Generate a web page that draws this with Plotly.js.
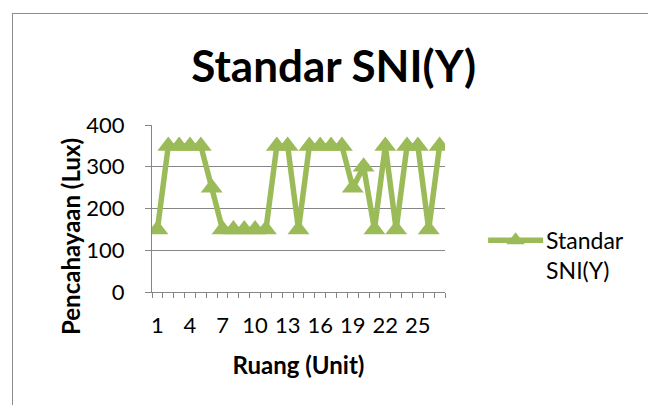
<!DOCTYPE html>
<html>
<head>
<meta charset="utf-8">
<script src="https://cdn.plot.ly/plotly-3.0.1.min.js"></script>
<style>
html,body{margin:0;padding:0;background:#fff;}
#wrap{position:relative;width:648px;height:405px;}
#chart{width:648px;height:405px;}
#frame{position:absolute;left:12px;top:13px;right:-2px;bottom:-2px;border:1px solid #8c8c8c;pointer-events:none;}
</style>
</head>
<body>
<div id="wrap">
<div id="chart"></div>
<div id="frame"></div>
</div>
<script>
var ruang = [1,2,3,4,5,6,7,8,9,10,11,12,13,14,15,16,17,18,19,20,21,22,23,24,25,26,27];
var standarSNI = [150,350,350,350,350,250,150,150,150,150,150,350,350,150,350,350,350,350,250,300,150,350,150,350,350,150,350];
var xTickVals = [1,4,7,10,13,16,19,22,25];
var xTickText = ['1','4','7','10','13','16','19','22','25'];
var yTickVals = [0,100,200,300,400];
var seriesName = 'Standar<br>SNI(Y)';
var chartTitle = 'Standar SNI(Y)';
var xTitle = 'Ruang (Unit)';
var yTitle = 'Pencahayaan (Lux)';

var fontFam = 'Lato, "Open Sans", sans-serif';

var trace = {
  x: ruang,
  y: standarSNI,
  type: 'scatter',
  mode: 'lines+markers',
  name: seriesName,
  line: {color: '#9BBB59', width: 5.5},
  marker: {symbol: 'triangle-up', size: 19, color: '#9BBB59'},
  showlegend: true
};

var layout = {
  width: 648,
  height: 405,
  margin: {l: 152, r: 203, t: 125, b: 113},
  paper_bgcolor: '#ffffff',
  plot_bgcolor: '#ffffff',
  font: {family: fontFam, color: '#000000', size: 22},
  title: {
    text: '<b>' + chartTitle + '</b>',
    font: {family: fontFam, size: 44, color: '#000000'},
    x: 0.62, xanchor: 'center', xref: 'paper',
    y: 0.835, yanchor: 'middle', yref: 'container'
  },
  xaxis: {
    range: [0.5, 27.5],
    tickmode: 'array',
    tickvals: xTickVals,
    ticktext: xTickText,
    ticks: '',
    ticklabelstandoff: 14,
    showgrid: false,
    zeroline: false,
    showline: true,
    linecolor: '#868686',
    linewidth: 1,
    tickfont: {family: fontFam, size: 22, color: '#000'},
    minor: {tick0: 0.5, dtick: 1, ticks: 'outside', ticklen: 5, tickcolor: '#868686', showgrid: false},
    title: {text: '<b>' + xTitle + '</b>', font: {family: fontFam, size: 24, color: '#000'}, standoff: 19},
    fixedrange: true
  },
  yaxis: {
    range: [0, 400],
    tickmode: 'array',
    tickvals: yTickVals,
    ticks: 'outside',
    ticklen: 6,
    tickcolor: '#868686',
    showgrid: true,
    gridcolor: '#868686',
    gridwidth: 1,
    zeroline: false,
    showline: true,
    linecolor: '#868686',
    linewidth: 1,
    tickfont: {family: fontFam, size: 22, color: '#000'},
    ticklabelstandoff: 16,
    fixedrange: true
  },
  annotations: [{
    text: '<b>' + yTitle + '</b>',
    textangle: -90,
    xref: 'paper', yref: 'paper',
    x: -0.28, y: 0.335,
    xanchor: 'center', yanchor: 'middle',
    showarrow: false,
    font: {family: fontFam, size: 24, color: '#000'}
  }],
  legend: {
    x: 1.13, xanchor: 'left',
    y: 0.22, yanchor: 'middle',
    valign: 'top',
    itemwidth: 53,
    font: {family: fontFam, size: 23, color: '#000'},
    bgcolor: 'rgba(0,0,0,0)',
    borderwidth: 0
  }
};

Plotly.newPlot('chart', [trace], layout, {displayModeBar: false, staticPlot: true}).then(function(gd){
  var paths = gd.querySelectorAll('.legend .legendlines path');
  paths.forEach(function(p){ p.setAttribute('d', 'M5,0h55'); });
  var pts = gd.querySelectorAll('.legend .legendpoints path');
  pts.forEach(function(p){ p.setAttribute('transform', 'translate(32.5,0)'); });
});
</script>
</body>
</html>
